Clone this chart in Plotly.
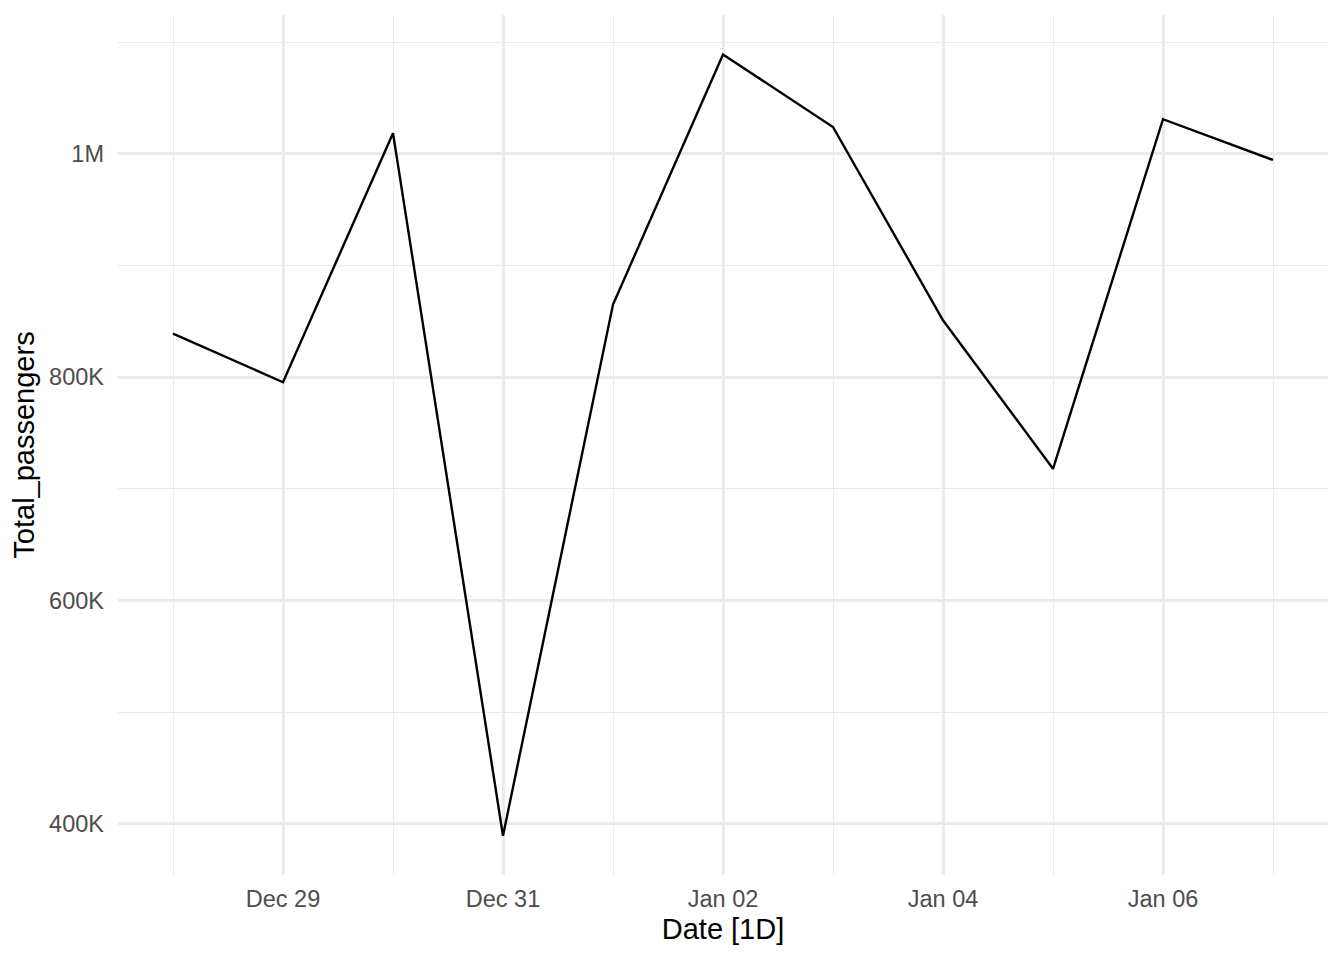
import plotly.graph_objects as go
import pandas as pd

dates = pd.date_range('2023-12-28', '2024-01-07', freq='D')
total_passengers = [839000, 795500, 1018500, 389500, 865000, 1089000,
                    1024000, 851000, 718000, 1031000, 994500]

y_ticks = [400000, 600000, 800000, 1000000]
y_labels = ['400K', '600K', '800K', '1M']
y_minor = [500000, 700000, 900000, 1100000]
x_ticks = ['2023-12-29', '2023-12-31', '2024-01-02', '2024-01-04', '2024-01-06']
x_labels = ['Dec 29', 'Dec 31', 'Jan 02', 'Jan 04', 'Jan 06']
x_minor = ['2023-12-28', '2023-12-30', '2024-01-01', '2024-01-03', '2024-01-05', '2024-01-07']

fig = go.Figure(go.Scatter(
	x=dates, y=total_passengers, mode='lines',
	line=dict(color='black', width=2.4), showlegend=False))

grid = '#EBEBEB'
tickfont = dict(family='Liberation Sans, Arial, sans-serif', size=23.5, color='#4D4D4D')
titlefont = dict(family='Liberation Sans, Arial, sans-serif', size=29, color='black')

# page body has an 8px margin, so the figure is a bit smaller than the window
fig.update_layout(
	width=1328, height=944,
	margin=dict(l=110, r=8, t=7, b=77),
	paper_bgcolor='white', plot_bgcolor='white',
	xaxis=dict(
		range=['2023-12-27 12:00', '2024-01-07 12:00'],
		tickvals=x_ticks, ticktext=x_labels,
		tickfont=tickfont, ticks='', ticklen=0, ticklabelstandoff=7,
		showgrid=True, gridcolor=grid, gridwidth=2.5,
		zeroline=False, showline=False,
		minor=dict(tickvals=x_minor, showgrid=True, gridcolor=grid, gridwidth=1.3, ticks=''),
		title=dict(text='Date [1D]', font=titlefont, standoff=8),
	),
	yaxis=dict(
		range=[354300, 1124300],
		tickvals=y_ticks, ticktext=y_labels,
		tickfont=tickfont, ticks='', ticklen=0, ticklabelstandoff=13,
		showgrid=True, gridcolor=grid, gridwidth=2.5,
		zeroline=False, showline=False,
		minor=dict(tickvals=y_minor, showgrid=True, gridcolor=grid, gridwidth=1.3, ticks=''),
		title=dict(text='Total_passengers', font=titlefont, standoff=8),
	),
)

fig.write_html("out.html")
